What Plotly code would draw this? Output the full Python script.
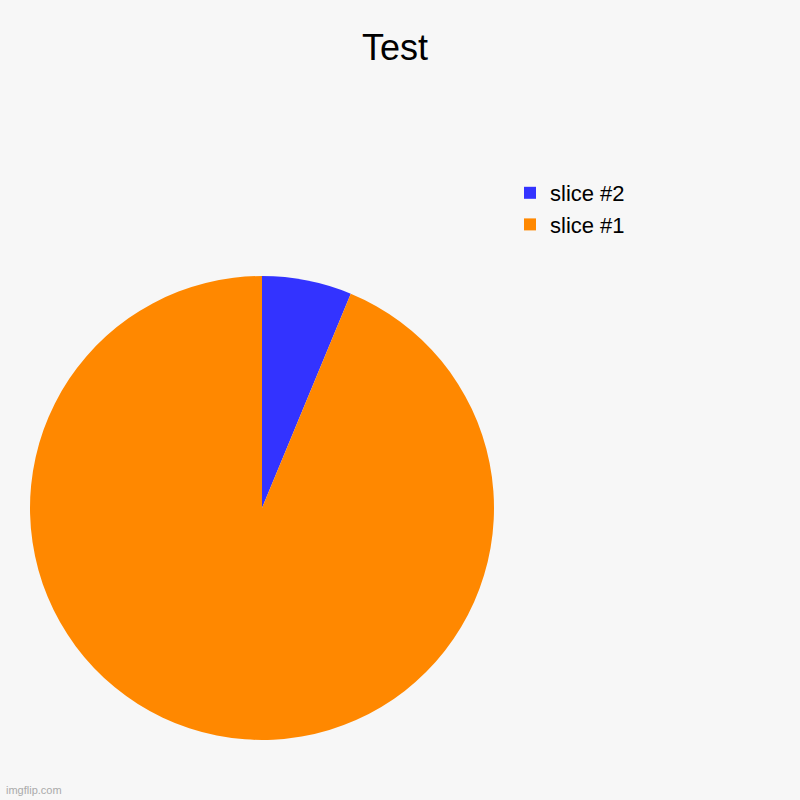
import plotly.graph_objects as go

labels = ["slice #2", "slice #1"]
values = [1, 15]
colors = ["#3333ff", "#ff8800"]

fig = go.Figure()

fig.add_trace(go.Pie(
    labels=labels,
    values=values,
    marker=dict(colors=colors, line=dict(width=0)),
    sort=False,
    direction="clockwise",
    rotation=0,
    textinfo="none",
    hoverinfo="label+value+percent",
    domain=dict(x=[30 / 800, 494 / 800], y=[1 - 740 / 800, 1 - 276 / 800]),
))

fig.update_layout(
    width=800,
    height=800,
    margin=dict(l=0, r=0, t=0, b=0),
    paper_bgcolor="#f7f7f7",
    plot_bgcolor="#f7f7f7",
    font=dict(family="Liberation Sans, Arial, sans-serif", color="#000000"),
    title=dict(
        text="Test",
        x=395 / 800,
        xanchor="center",
        y=1 - 47 / 800,
        yanchor="middle",
        font=dict(size=36),
    ),
    legend=dict(
        x=510 / 800,
        xanchor="left",
        y=1 - 172 / 800,
        yanchor="top",
        font=dict(size=22),
        bgcolor="rgba(0,0,0,0)",
        itemsizing="constant",
    ),
    annotations=[dict(
        text="imgflip.com",
        x=4 / 800,
        y=2 / 800,
        xref="paper",
        yref="paper",
        xanchor="left",
        yanchor="bottom",
        showarrow=False,
        font=dict(size=11, color="#aaaaaa"),
    )],
)

# the page body has a default 8px margin; drop it so the chart fills the window
fig.write_html(
    "out.html",
    config={"displayModeBar": False},
    post_script="document.body.style.margin='0';",
)
